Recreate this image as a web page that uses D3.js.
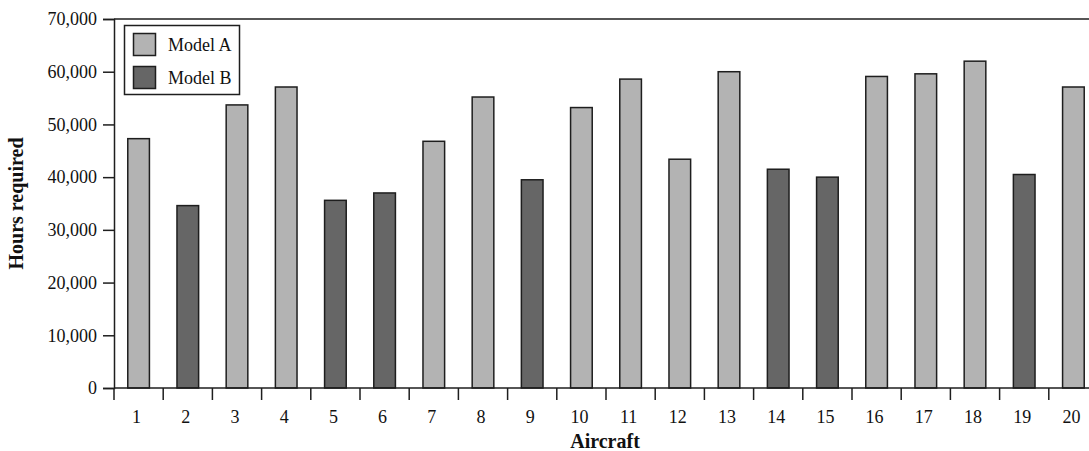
<!DOCTYPE html>
<html lang="en">
<head>
	<meta charset="UTF-8">
	<title>Hours required by aircraft</title>
	<script src="https://cdn.jsdelivr.net/npm/d3@7"></script>
	<style>
		body { margin: 0; background: #fff; }
		text { font-family: "Liberation Serif", "Times New Roman", serif; fill: #111; }
	</style>
</head>
<body>
<svg id="chart" width="1089" height="451"></svg>
<script>

// data
const aircraft = d3.range(1, 21);
const models = ['A','B','A','A','B','B','A','A','B','A','A','A','A','B','B','A','A','A','B','A'];
const hours = [47300, 34600, 53700, 57100, 35600, 37000, 46800, 55200, 39500, 53200,
	58600, 43400, 60000, 41500, 40000, 59100, 59600, 62000, 40500, 57100];
const yTicks = [0, 10000, 20000, 30000, 40000, 50000, 60000, 70000];
const legendItems = ['Model A', 'Model B'];

const fills = { A: '#b3b3b3', B: '#666666' };
const stroke = '#1e1e1e';

const svg = d3.select('#chart');
const plotLeft = 114, plotRight = 1098, plotTop = 19, plotBottom = 388;

const x = d3.scaleBand()
	.domain(aircraft)
	.range([plotLeft, plotRight])
	.paddingInner(0.56)
	.paddingOuter(0.28);

const y = d3.scaleLinear()
	.domain([0, 70000])
	.range([plotBottom, plotTop]);

// top frame line
svg.append('line')
	.attr('x1', plotLeft).attr('x2', plotRight)
	.attr('y1', plotTop).attr('y2', plotTop)
	.attr('stroke', stroke).attr('stroke-width', 1.5);

// bars
svg.append('g').selectAll('rect')
	.data(aircraft)
	.join('rect')
	.attr('x', d => x(d))
	.attr('width', x.bandwidth())
	.attr('y', (d, i) => y(hours[i]))
	.attr('height', (d, i) => y(0) - y(hours[i]))
	.attr('fill', (d, i) => fills[models[i]])
	.attr('stroke', stroke)
	.attr('stroke-width', 1.5);

// y axis
const yAxis = svg.append('g')
	.attr('transform', `translate(${plotLeft},0)`)
	.call(d3.axisLeft(y).tickValues(yTicks).tickFormat(d3.format(',')).tickSize(11).tickPadding(6));
yAxis.select('.domain').attr('stroke', stroke).attr('stroke-width', 1.5);
yAxis.selectAll('.tick line').attr('stroke', stroke).attr('stroke-width', 1.5);
yAxis.selectAll('.tick text')
	.style('font-family', '"Liberation Serif", serif')
	.style('font-size', '18px')
	.attr('fill', '#111');

// x axis: ticks sit on the band boundaries
const boundaries = aircraft.map(d => x(d) - x.step() * x.paddingOuter());
svg.append('line')
	.attr('x1', plotLeft).attr('x2', plotRight)
	.attr('y1', plotBottom).attr('y2', plotBottom)
	.attr('stroke', stroke).attr('stroke-width', 1.5);
svg.append('g').selectAll('line')
	.data(boundaries)
	.join('line')
	.attr('x1', d => d).attr('x2', d => d)
	.attr('y1', plotBottom).attr('y2', plotBottom + 12)
	.attr('stroke', stroke).attr('stroke-width', 1.5);
svg.append('g').selectAll('text')
	.data(aircraft)
	.join('text')
	.attr('x', d => x(d) + x.bandwidth() / 2 - 2)
	.attr('y', 423)
	.attr('text-anchor', 'middle')
	.style('font-size', '18px')
	.text(d => d);

// axis titles
svg.append('text')
	.attr('x', 605).attr('y', 448)
	.attr('text-anchor', 'middle')
	.style('font-size', '20px')
	.style('font-weight', 'bold')
	.text('Aircraft');

svg.append('text')
	.attr('transform', `translate(23,${(plotTop + plotBottom) / 2}) rotate(-90)`)
	.attr('text-anchor', 'middle')
	.style('font-size', '20px')
	.style('font-weight', 'bold')
	.text('Hours required');

// legend
const legend = svg.append('g');
legend.append('rect')
	.attr('x', 124.5).attr('y', 25.5)
	.attr('width', 115).attr('height', 69)
	.attr('fill', '#fff')
	.attr('stroke', stroke).attr('stroke-width', 1.5);
legend.selectAll('.sw')
	.data(legendItems)
	.join('rect')
	.attr('class', 'sw')
	.attr('x', 133.5)
	.attr('y', (d, i) => 33.5 + i * 33)
	.attr('width', 22).attr('height', 22)
	.attr('fill', (d, i) => fills[['A', 'B'][i]])
	.attr('stroke', stroke).attr('stroke-width', 1.5);
legend.selectAll('.lt')
	.data(legendItems)
	.join('text')
	.attr('class', 'lt')
	.attr('x', 168)
	.attr('y', (d, i) => 51 + i * 33)
	.style('font-size', '18px')
	.text(d => d);

</script>
</body>
</html>
